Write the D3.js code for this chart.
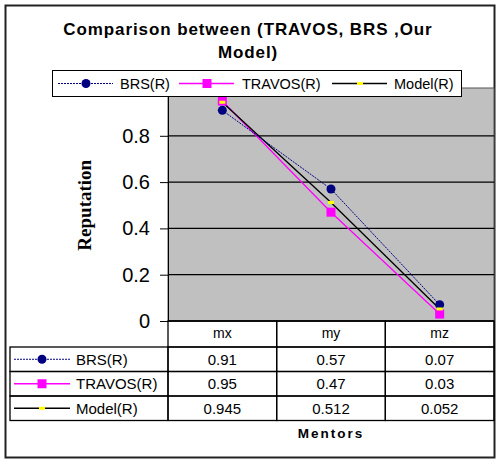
<!DOCTYPE html>
<html>
<head>
<meta charset="utf-8">
<script src="https://cdn.jsdelivr.net/npm/d3@7"></script>
<style>
  body { margin: 0; background: #fff; }
  text { font-family: Arial, "Liberation Sans", sans-serif; }
</style>
</head>
<body>
<script>
var w = 502, h = 472;

// data
var mentors = ["mx", "my", "mz"];
var seriesNames = ["BRS(R)", "TRAVOS(R)", "Model(R)"];
var brs = [0.91, 0.57, 0.07];
var travos = [0.95, 0.47, 0.03];
var model = [0.945, 0.512, 0.052];
var yTicks = [0, 0.2, 0.4, 0.6, 0.8];

var series = [
  { name: seriesNames[0], values: brs, color: "#000080", dash: "2,1", width: 1, marker: "circle" },
  { name: seriesNames[1], values: travos, color: "#ff00ff", dash: null, width: 1.3, marker: "square" },
  { name: seriesNames[2], values: model, color: "#000000", dash: null, width: 1.3, marker: "dash" }
];

var plotL = 168, plotR = 494, plotT = 88, plotB = 321;

var x = d3.scaleBand().domain(mentors).range([plotL, plotR]);
var y = d3.scaleLinear().domain([0, 1]).range([plotB, 89.5]);

var svg = d3.select("body").append("svg")
  .attr("width", w).attr("height", h);

// outer frame
svg.append("rect")
  .attr("x", 5.5).attr("y", 5.5).attr("width", 489).attr("height", 452)
  .attr("fill", "#fff").attr("stroke", "#222").attr("stroke-width", 2);

// plot area
svg.append("rect")
  .attr("x", plotL).attr("y", plotT).attr("width", plotR - plotL).attr("height", plotB - plotT)
  .attr("fill", "#c0c0c0").attr("stroke", "#555").attr("stroke-width", 1);

// y axis with gridlines
var yAxis = d3.axisLeft(y).tickValues(yTicks).tickSize(8).tickPadding(10)
  .tickFormat(function(d) { return d === 0 ? "0" : d3.format(".1f")(d); });
var ya = svg.append("g").attr("transform", "translate(" + plotL + ",0)").call(yAxis);
ya.select(".domain").attr("stroke", "#000");
ya.selectAll("text").attr("font-size", "20px").attr("fill", "#000")
  .attr("font-family", "Arial, 'Liberation Sans', sans-serif");
ya.selectAll("line").attr("stroke", "#000");

svg.append("g").selectAll("line")
  .data(yTicks.filter(function(d) { return d > 0; }))
  .enter().append("line")
  .attr("x1", plotL).attr("x2", plotR)
  .attr("y1", function(d) { return y(d); }).attr("y2", function(d) { return y(d); })
  .attr("stroke", "#000").attr("stroke-width", 1.2);

svg.append("line").attr("x1", plotL).attr("x2", plotR)
  .attr("y1", plotB).attr("y2", plotB).attr("stroke", "#000").attr("stroke-width", 1.5);

// lines
var line = d3.line()
  .x(function(d, i) { return x(mentors[i]) + x.bandwidth() / 2; })
  .y(function(d) { return y(d); });

// draw order: travos, model, brs
[1, 2, 0].forEach(function(k) {
  var s = series[k];
  svg.append("path")
    .datum(s.values)
    .attr("d", line)
    .attr("fill", "none")
    .attr("stroke", s.color)
    .attr("stroke-width", s.width)
    .attr("stroke-dasharray", s.dash);
});

function drawMarker(g, type, cx, cy) {
  if (type === "circle") {
    g.append("circle").attr("cx", cx).attr("cy", cy).attr("r", 4.5).attr("fill", "#000080");
  } else if (type === "square") {
    g.append("rect").attr("x", cx - 4.5).attr("y", cy - 4.5).attr("width", 9).attr("height", 9).attr("fill", "#ff00ff");
  } else {
    g.append("rect").attr("x", cx - 3).attr("y", cy - 1.5).attr("width", 6).attr("height", 3).attr("fill", "#ffff00");
  }
}

var markers = svg.append("g");
[1, 0, 2].forEach(function(k) {
  var s = series[k];
  s.values.forEach(function(v, i) {
    drawMarker(markers, s.marker, x(mentors[i]) + x.bandwidth() / 2, y(v));
  });
});

// title
svg.append("text").attr("x", 248).attr("y", 35).attr("text-anchor", "middle")
  .attr("font-size", "17px").attr("font-weight", "bold").attr("letter-spacing", "0.9px")
  .text("Comparison between (TRAVOS, BRS ,Our");
svg.append("text").attr("x", 248).attr("y", 58).attr("text-anchor", "middle")
  .attr("font-size", "17px").attr("font-weight", "bold").attr("letter-spacing", "0.9px")
  .text("Model)");

// legend
svg.append("rect").attr("x", 52.5).attr("y", 70.5).attr("width", 409).attr("height", 26)
  .attr("fill", "#fff").attr("stroke", "#000").attr("stroke-width", 1);
var legX = [58, 179, 332];
var legText = [120, 242, 394];
series.forEach(function(s, k) {
  var g = svg.append("g");
  g.append("line").attr("x1", legX[k]).attr("x2", legX[k] + 55)
    .attr("y1", 83.5).attr("y2", 83.5)
    .attr("stroke", s.color).attr("stroke-width", s.width).attr("stroke-dasharray", s.dash);
  drawMarker(g, s.marker, legX[k] + 28, 83.5);
  g.append("text").attr("x", legText[k]).attr("y", 89).attr("font-size", "14.5px").text(s.name);
});

// data table
var rowH = 24.5;
var tTop = plotB, tLeft = 10;
var tbl = svg.append("g");
// header row
mentors.forEach(function(m) {
  tbl.append("rect").attr("x", x(m)).attr("y", tTop).attr("width", x.bandwidth()).attr("height", 26)
    .attr("fill", "none").attr("stroke", "#000").attr("stroke-width", 1.3);
  tbl.append("text").attr("x", x(m) + x.bandwidth() / 2).attr("y", tTop + 17)
    .attr("text-anchor", "middle").attr("font-size", "14px").text(m);
});
series.forEach(function(s, r) {
  var ry = tTop + 26 + r * rowH;
  tbl.append("rect").attr("x", tLeft).attr("y", ry).attr("width", plotL - tLeft).attr("height", rowH)
    .attr("fill", "none").attr("stroke", "#000").attr("stroke-width", 1.3);
  tbl.append("line").attr("x1", 14).attr("x2", 70).attr("y1", ry + rowH / 2).attr("y2", ry + rowH / 2)
    .attr("stroke", s.color).attr("stroke-width", s.width).attr("stroke-dasharray", s.dash);
  drawMarker(tbl, s.marker, 42, ry + rowH / 2);
  tbl.append("text").attr("x", 76).attr("y", ry + 17.5).attr("font-size", "15px").text(s.name);
  s.values.forEach(function(v, i) {
    tbl.append("rect").attr("x", x(mentors[i])).attr("y", ry).attr("width", x.bandwidth()).attr("height", rowH)
      .attr("fill", "none").attr("stroke", "#000").attr("stroke-width", 1.3);
    tbl.append("text").attr("x", x(mentors[i]) + x.bandwidth() / 2).attr("y", ry + 17.5)
      .attr("text-anchor", "middle").attr("font-size", "15px").text(String(v));
  });
});

// axis titles
svg.append("text").attr("x", 331).attr("y", 438).attr("text-anchor", "middle")
  .attr("font-size", "13.5px").attr("font-weight", "bold").attr("letter-spacing", "2px")
  .text("Mentors");
svg.append("text")
  .attr("transform", "translate(91," + ((plotB + 89.5) / 2) + ") rotate(-90)")
  .attr("text-anchor", "middle")
  .style("font-family", "'Liberation Serif', 'Times New Roman', serif")
  .attr("font-size", "19px").attr("font-weight", "bold")
  .text("Reputation");
</script>
</body>
</html>
